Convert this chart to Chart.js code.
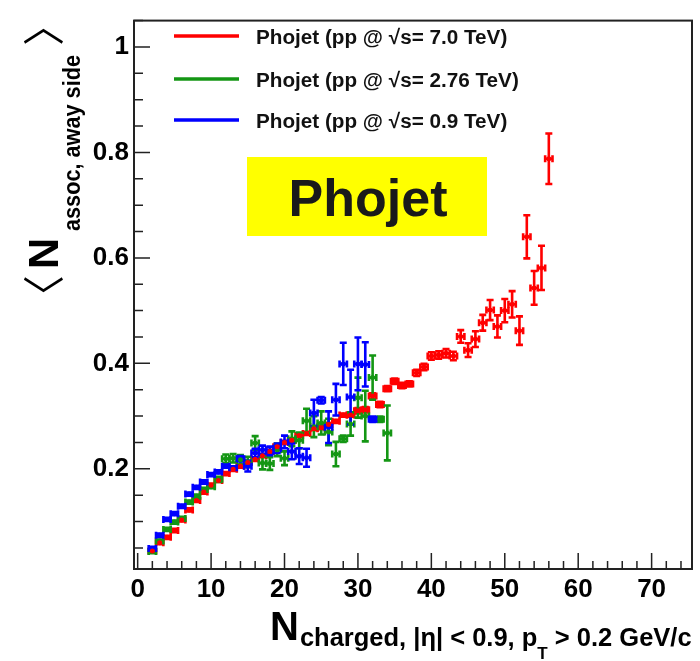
<!DOCTYPE html>
<html>
<head>
<meta charset="utf-8">
<title>Phojet - away side associated yield</title>
<script src="https://cdn.jsdelivr.net/npm/chart.js@4.4.0/dist/chart.umd.min.js"></script>
<style>
  body { margin: 0; background: #fff; }
</style>
</head>
<body>
<canvas id="nassocChart" width="700" height="661"></canvas>
<script>
// Tick labels
const xTicks = [0, 10, 20, 30, 40, 50, 60, 70];
const yTicks = [0.2, 0.4, 0.6, 0.8, 1];

// Phojet pp @ 7.0 TeV
const redN = [2, 3, 4, 5, 6, 7, 8, 9, 10, 11, 12, 13, 14, 15, 16, 17, 18, 19, 20, 21, 22, 23, 24, 25, 26, 27, 28, 29,
  30, 31, 32, 33, 34, 35, 36, 37, 38, 39, 40, 41, 42, 43, 44, 45, 46, 47, 48, 49, 50, 51, 52, 53, 54, 55, 56];
const redV = [0.044, 0.060, 0.070, 0.083, 0.103, 0.122, 0.140, 0.156, 0.169, 0.178, 0.191, 0.199, 0.205, 0.212,
  0.218, 0.225, 0.233, 0.242, 0.250, 0.254, 0.263, 0.267, 0.276, 0.278, 0.284, 0.290, 0.302, 0.302,
  0.310, 0.312, 0.338, 0.322, 0.352, 0.366, 0.358, 0.361, 0.382, 0.393, 0.414, 0.416, 0.419, 0.414,
  0.451, 0.425, 0.446, 0.477, 0.501, 0.470, 0.500, 0.512, 0.462, 0.640, 0.543, 0.581, 0.788];
const redErr = [0.003, 0.003, 0.003, 0.003, 0.003, 0.003, 0.003, 0.003, 0.003, 0.003, 0.003, 0.003, 0.003, 0.003,
  0.003, 0.003, 0.003, 0.003, 0.003, 0.003, 0.003, 0.003, 0.003, 0.003, 0.003, 0.003, 0.003, 0.003,
  0.005, 0.005, 0.005, 0.005, 0.005, 0.005, 0.005, 0.005, 0.006, 0.006, 0.007, 0.007, 0.008, 0.008,
  0.012, 0.013, 0.015, 0.015, 0.019, 0.021, 0.022, 0.025, 0.027, 0.041, 0.032, 0.042, 0.048];

// Phojet pp @ 2.76 TeV
const greenN = [2, 3, 4, 5, 6, 7, 8, 9, 10, 11, 12, 13, 14, 15, 16, 17, 18, 19, 20, 21, 22, 23, 24, 25, 26, 27, 28,
  29, 30, 31, 32, 33, 34];
const greenV = [0.043, 0.063, 0.085, 0.099, 0.106, 0.137, 0.148, 0.161, 0.166, 0.180, 0.219, 0.220, 0.217, 0.213,
  0.249, 0.211, 0.210, 0.236, 0.220, 0.257, 0.254, 0.291, 0.280, 0.287, 0.270, 0.228, 0.257,
  0.285, 0.335, 0.300, 0.373, 0.294, 0.268];
const greenErr = [0.003, 0.003, 0.003, 0.003, 0.003, 0.003, 0.003, 0.003, 0.003, 0.005, 0.008, 0.008, 0.009, 0.010,
  0.013, 0.012, 0.012, 0.012, 0.013, 0.014, 0.015, 0.023, 0.020, 0.022, 0.025, 0.023, 0.006,
  0.022, 0.038, 0.048, 0.042, 0.005, 0.052];

// Phojet pp @ 0.9 TeV
const blueN = [2, 3, 4, 5, 6, 7, 8, 9, 10, 11, 12, 13, 14, 15, 16, 17, 18, 19, 20, 21, 22, 23, 24, 25, 26, 27, 28,
  29, 30, 31, 32];
const blueV = [0.049, 0.074, 0.104, 0.115, 0.129, 0.152, 0.165, 0.175, 0.189, 0.194, 0.205, 0.202, 0.219, 0.205,
  0.230, 0.236, 0.234, 0.239, 0.251, 0.233, 0.224, 0.221, 0.306, 0.330, 0.279, 0.331, 0.399,
  0.336, 0.399, 0.398, 0.294];
const blueErr = [0.003, 0.003, 0.003, 0.003, 0.003, 0.003, 0.003, 0.003, 0.003, 0.003, 0.003, 0.003, 0.005, 0.010,
  0.008, 0.008, 0.008, 0.009, 0.012, 0.015, 0.015, 0.017, 0.025, 0.006, 0.030, 0.030, 0.040,
  0.052, 0.050, 0.042, 0.005];

const seriesLabels = ['Phojet (pp @ \u221As= 7.0 TeV)', 'Phojet (pp @ \u221As= 2.76 TeV)', 'Phojet (pp @ \u221As= 0.9 TeV)'];
const seriesColors = ['#ff0000', '#149614', '#0000ff'];

const binHalf = 0.5;
const FONT = '"Liberation Sans", Arial, Helvetica, sans-serif';
const BRACKET_FONT = '42px "Noto Sans CJK JP", "DejaVu Sans", sans-serif';

function toPoints(xs, ys) {
    return xs.map((v, i) => ({ x: v, y: ys[i] }));
}

// draw a glyph so that its ink starts at lx and is centred on line cy (rotated frame)
function drawGlyph(ctx, ch, lx, cy) {
    const m = ctx.measureText(ch);
    const drawX = lx + m.actualBoundingBoxLeft;
    const drawY = cy + (m.actualBoundingBoxAscent - m.actualBoundingBoxDescent) / 2;
    ctx.fillText(ch, drawX, drawY);
}

// ROOT-like drawing: error bars, frame, inner ticks, legend, titles
const rootStyle = {
    id: 'rootStyle',
    beforeDatasetsDraw(chart) {
        const { ctx, scales: { x, y } } = chart;
        const cap = 3.5;
        chart.data.datasets.forEach(ds => {
            ctx.save();
            ctx.strokeStyle = ds.borderColor;
            ctx.lineWidth = 2.6;
            ds.data.forEach((p, i) => {
                const px = x.getPixelForValue(p.x);
                const xl = x.getPixelForValue(p.x - binHalf);
                const xr = x.getPixelForValue(p.x + binHalf);
                const py = y.getPixelForValue(p.y);
                const yt = y.getPixelForValue(p.y + ds.errors[i]);
                const yb = y.getPixelForValue(p.y - ds.errors[i]);
                ctx.beginPath();
                ctx.moveTo(xl, py); ctx.lineTo(xr, py);
                ctx.moveTo(px, yt); ctx.lineTo(px, yb);
                ctx.moveTo(xl, py - cap); ctx.lineTo(xl, py + cap);
                ctx.moveTo(xr, py - cap); ctx.lineTo(xr, py + cap);
                ctx.moveTo(px - cap, yt); ctx.lineTo(px + cap, yt);
                ctx.moveTo(px - cap, yb); ctx.lineTo(px + cap, yb);
                ctx.stroke();
            });
            ctx.restore();
        });
    },
    afterDraw(chart) {
        const { ctx, chartArea: a, scales: { x, y } } = chart;
        ctx.save();

        // frame
        ctx.strokeStyle = '#222';
        ctx.lineWidth = 2;
        ctx.strokeRect(a.left, a.top, a.right - a.left, a.bottom - a.top);

        // inner ticks
        ctx.lineWidth = 1.5;
        ctx.beginPath();
        for (let v = 0; v <= x.max; v += 2) {
            const px = x.getPixelForValue(v);
            const len = v % 10 === 0 ? 16 : 8;
            ctx.moveTo(px, a.bottom); ctx.lineTo(px, a.bottom - len);
        }
        for (let k = 1; k * 0.05 <= y.max; k++) {
            const py = y.getPixelForValue(k * 0.05);
            const len = k % 4 === 0 ? 16 : 9;
            ctx.moveTo(a.left, py); ctx.lineTo(a.left + len, py);
        }
        ctx.stroke();

        // legend
        seriesLabels.forEach((label, i) => {
            const ly = [36, 79, 120][i];
            ctx.strokeStyle = seriesColors[i];
            ctx.lineWidth = 3.3;
            ctx.beginPath();
            ctx.moveTo(174, ly); ctx.lineTo(239, ly);
            ctx.stroke();
            ctx.fillStyle = '#111';
            ctx.font = 'bold 20.7px ' + FONT;
            ctx.textAlign = 'left';
            ctx.textBaseline = 'alphabetic';
            ctx.fillText(label, 256, ly + 8);
        });

        // yellow label box
        ctx.fillStyle = '#ffff00';
        ctx.fillRect(247, 157, 240, 79);
        ctx.fillStyle = '#1a1a1a';
        ctx.font = 'bold 52px ' + FONT;
        ctx.textAlign = 'center';
        ctx.fillText('Phojet', 368, 216);

        // x title
        ctx.textAlign = 'left';
        ctx.fillStyle = '#000';
        let cx = 270;
        ctx.font = 'bold 40px ' + FONT;
        ctx.fillText('N', cx, 640);
        cx += ctx.measureText('N').width + 1;
        ctx.font = 'bold 25.5px ' + FONT;
        const sub1 = 'charged, |\u03B7| < 0.9, p';
        ctx.fillText(sub1, cx, 646);
        cx += ctx.measureText(sub1).width;
        ctx.font = 'bold 17px ' + FONT;
        ctx.fillText('T', cx, 659);
        cx += ctx.measureText('T').width;
        ctx.font = 'bold 25.5px ' + FONT;
        ctx.fillText(' > 0.2 GeV/c', cx, 646);

        // y title (rotated, reads bottom to top)
        ctx.save();
        ctx.translate(0, 293);
        ctx.rotate(-Math.PI / 2);
        ctx.textBaseline = 'alphabetic';
        ctx.font = BRACKET_FONT;
        drawGlyph(ctx, '\u3008', 0, 43);
        ctx.font = 'bold 43px ' + FONT;
        ctx.fillText('N', 24, 58);
        ctx.font = 'bold 24px ' + FONT;
        const sub2 = 'assoc, away side';
        const subLen = 176;
        ctx.save();
        ctx.translate(62, 80);
        ctx.scale(subLen / ctx.measureText(sub2).width, 1);
        ctx.fillText(sub2, 0, 0);
        ctx.restore();
        ctx.font = BRACKET_FONT;
        drawGlyph(ctx, '\u3009', 249, 43);
        ctx.restore();

        ctx.restore();
    }
};

const tickFont = { family: FONT, size: 26, weight: 'bold' };

new Chart(document.getElementById('nassocChart'), {
    type: 'scatter',
    data: {
        datasets: [
            { label: seriesLabels[0], data: toPoints(redN, redV), errors: redErr, borderColor: seriesColors[0], backgroundColor: seriesColors[0], pointRadius: 2.5, pointBorderWidth: 0 },
            { label: seriesLabels[1], data: toPoints(greenN, greenV), errors: greenErr, borderColor: seriesColors[1], backgroundColor: seriesColors[1], pointRadius: 2.5, pointBorderWidth: 0 },
            { label: seriesLabels[2], data: toPoints(blueN, blueV), errors: blueErr, borderColor: seriesColors[2], backgroundColor: seriesColors[2], pointRadius: 2.5, pointBorderWidth: 0 }
        ]
    },
    options: {
        responsive: false,
        animation: false,
        layout: { padding: { top: 7, right: 8, left: 0, bottom: 0 } },
        plugins: {
            legend: { display: false },
            tooltip: { enabled: false }
        },
        scales: {
            x: {
                type: 'linear',
                min: -0.5,
                max: 75.5,
                grid: { display: false, drawTicks: false },
                border: { display: false },
                afterBuildTicks: s => { s.ticks = xTicks.map(v => ({ value: v })); },
                afterFit: s => { s.height = 92; },
                ticks: { font: tickFont, color: '#000', padding: 5, maxRotation: 0, autoSkip: false }
            },
            y: {
                type: 'linear',
                min: 0.01,
                max: 1.05,
                grid: { display: false, drawTicks: false },
                border: { display: false },
                afterBuildTicks: s => { s.ticks = yTicks.map(v => ({ value: v })); },
                afterFit: s => { s.width = 134; },
                ticks: { font: tickFont, color: '#000', padding: 5, callback: v => String(v) }
            }
        }
    },
    plugins: [rootStyle]
});
</script>
</body>
</html>
